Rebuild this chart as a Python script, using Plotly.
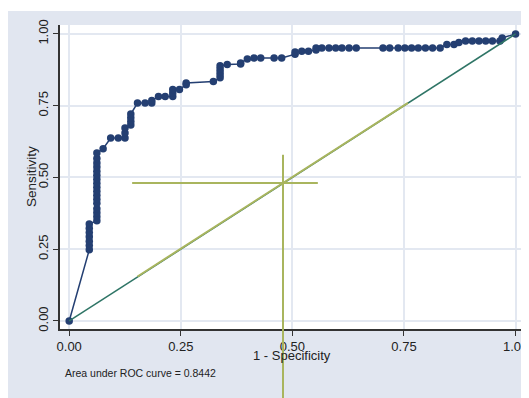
import plotly.graph_objects as go

# ROC curve points (1 - specificity, sensitivity)
fpr = [0.0,
       0.045, 0.045, 0.045, 0.045, 0.045, 0.045, 0.045,
       0.062, 0.062, 0.062, 0.062, 0.062, 0.062, 0.062, 0.062, 0.062,
       0.062, 0.062, 0.062, 0.062, 0.062, 0.062, 0.062, 0.062,
       0.076,
       0.093, 0.110, 0.125, 0.125, 0.125,
       0.138, 0.138, 0.138, 0.138,
       0.153, 0.170, 0.185, 0.185, 0.200, 0.215,
       0.232, 0.232, 0.232, 0.247, 0.262, 0.262,
       0.323, 0.338, 0.338, 0.338, 0.338, 0.338, 0.354,
       0.384, 0.384, 0.399, 0.414, 0.429, 0.459, 0.476,
       0.506, 0.506, 0.521, 0.536, 0.553, 0.553,
       0.566, 0.582, 0.597, 0.611, 0.627, 0.643,
       0.703, 0.718, 0.737, 0.752, 0.767, 0.782, 0.798, 0.814, 0.831,
       0.846, 0.862, 0.873,
       0.888, 0.903, 0.918, 0.933, 0.948, 0.965, 0.970, 1.0]
tpr = [0.0,
       0.248, 0.263, 0.278, 0.293, 0.308, 0.323, 0.338,
       0.349, 0.363, 0.377, 0.391, 0.410, 0.424, 0.438, 0.452, 0.466,
       0.480, 0.494, 0.508, 0.522, 0.536, 0.550, 0.566, 0.585,
       0.600,
       0.637, 0.637, 0.637, 0.655, 0.672,
       0.683, 0.695, 0.708, 0.721,
       0.759, 0.759, 0.759, 0.768, 0.782, 0.782,
       0.782, 0.794, 0.806, 0.806, 0.823, 0.829,
       0.834, 0.847, 0.858, 0.868, 0.879, 0.889, 0.893,
       0.895, 0.899, 0.913, 0.916, 0.916, 0.916, 0.916,
       0.929, 0.937, 0.940, 0.940, 0.944, 0.951,
       0.951, 0.951, 0.951, 0.951, 0.951, 0.951,
       0.951, 0.951, 0.951, 0.951, 0.951, 0.951, 0.951, 0.951, 0.951,
       0.963, 0.963, 0.970,
       0.975, 0.975, 0.975, 0.975, 0.975, 0.975, 0.986, 1.0]

diag_x = [0.0, 1.0]
diag_y = [0.0, 1.0]
overlay_x = [0.153, 0.759]
overlay_y = [0.155, 0.760]

# crosshair
cross_x = 0.479
cross_y = 0.481
cross_x_span = [0.141, 0.557]
cross_y_span = [-0.27, 0.579]

tick_vals = [0, 0.25, 0.5, 0.75, 1.0]
tick_text = ["0.00", "0.25", "0.50", "0.75", "1.00"]
x_title = "1 - Specificity"
y_title = "Sensitivity"
auc_text = "Area under ROC curve = 0.8442"

xr = [-0.0206, 1.0166]
yr = [-0.0279, 1.031]

W, H = 521, 390
ml, mr, mt, mb = 52, 6, 17, 69
PW, PH = W - ml - mr, H - mt - mb


def xp(v):
    return (v - xr[0]) / (xr[1] - xr[0])


def yp(v):
    return (v - yr[0]) / (yr[1] - yr[0])


navy = "#243f72"
teal = "#2f7566"
olive = "#a9b55e"
panel = "#e1e6f0"
font = "Liberation Sans, Arial, sans-serif"
txt = "#222222"

fig = go.Figure()
fig.add_trace(go.Scatter(x=fpr, y=tpr, mode="lines+markers",
                         line=dict(color=navy, width=1.5),
                         marker=dict(color=navy, size=7.5),
                         showlegend=False, hoverinfo="skip"))
fig.add_trace(go.Scatter(x=diag_x, y=diag_y, mode="lines",
                         line=dict(color=teal, width=1.5),
                         showlegend=False, hoverinfo="skip"))
fig.add_trace(go.Scatter(x=overlay_x, y=overlay_y, mode="lines",
                         line=dict(color=olive, width=2),
                         showlegend=False, hoverinfo="skip"))

shapes = [
    # thin white strip at the very top of the page area
    dict(type="rect", xref="paper", yref="paper",
         x0=-ml / PW, x1=1 + mr / PW,
         y0=1 + (mt - 3) / PH, y1=1 + mt / PH,
         fillcolor="white", line=dict(width=0), layer="below"),
    dict(type="line", xref="paper", yref="paper",
         x0=xp(cross_x), x1=xp(cross_x),
         y0=yp(cross_y_span[0]), y1=yp(cross_y_span[1]),
         line=dict(color=olive, width=2), layer="above"),
    dict(type="line", xref="paper", yref="paper",
         x0=xp(cross_x_span[0]), x1=xp(cross_x_span[1]),
         y0=yp(cross_y), y1=yp(cross_y),
         line=dict(color=olive, width=2), layer="above"),
]

axis_common = dict(
    tickvals=tick_vals, ticktext=tick_text, automargin=False,
    showgrid=True, gridcolor="#e3e8f1", gridwidth=1.5,
    zeroline=False, showline=True, linecolor="#333333", linewidth=1.5,
    ticks="outside", ticklen=5, tickcolor="#333333", tickwidth=1,
    tickfont=dict(family=font, size=13, color=txt),
)

fig.update_layout(
    width=W, height=H,
    margin=dict(l=ml, r=mr, t=mt, b=mb, pad=0, autoexpand=False),
    paper_bgcolor=panel, plot_bgcolor="white",
    shapes=shapes,
    xaxis=dict(range=xr, **axis_common),
    yaxis=dict(range=yr, tickangle=-90, **axis_common),
    annotations=[
        dict(text=auc_text, xref="paper", yref="paper",
             x=3 / PW, y=-44 / PH, xanchor="left", yanchor="middle",
             showarrow=False, font=dict(family=font, size=10.5, color=txt)),
        dict(text=x_title, xref="paper", yref="paper",
             x=0.5, y=-26 / PH, xanchor="center", yanchor="middle",
             showarrow=False, font=dict(family=font, size=13, color=txt)),
        dict(text=y_title, xref="paper", yref="paper", textangle=-90,
             x=-29 / PW, y=0.5, xanchor="center", yanchor="middle",
             showarrow=False, font=dict(family=font, size=13.5, color=txt)),
    ],
)

fig.write_html("out.html")
